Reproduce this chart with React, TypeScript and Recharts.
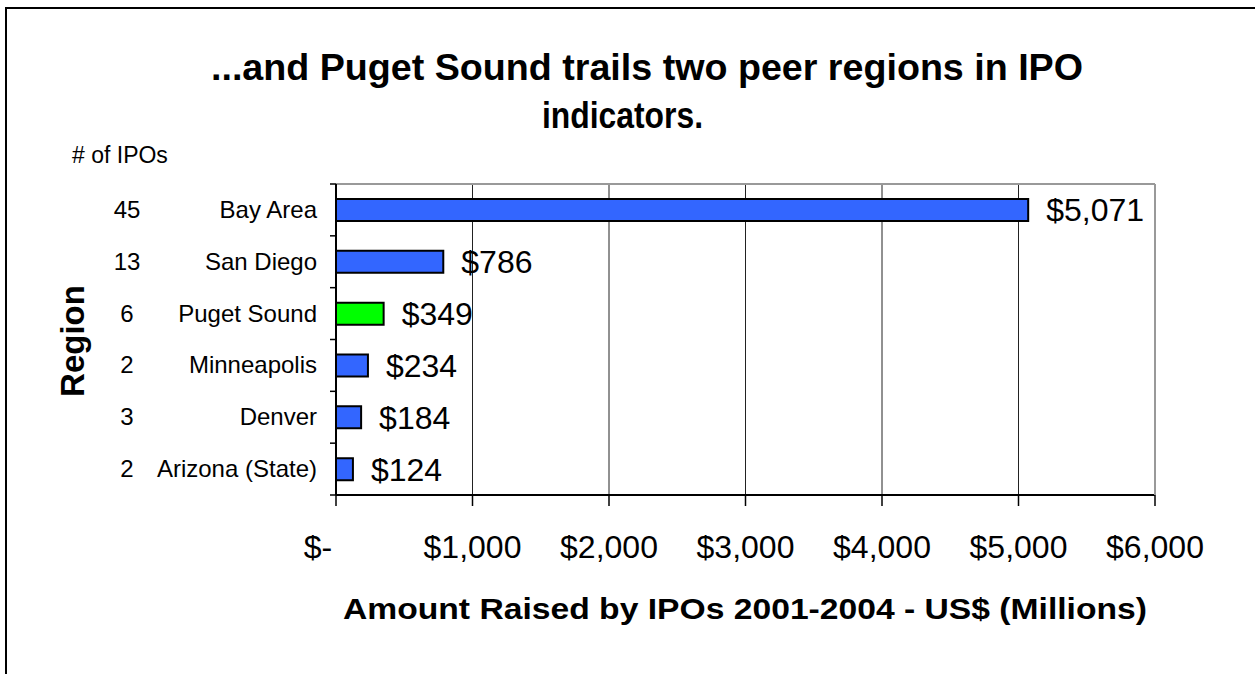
import React from "react";
import {
  BarChart,
  Bar,
  XAxis,
  YAxis,
  CartesianGrid,
  Cell,
  LabelList,
} from "recharts";

// values
const regions = ["Bay Area", "San Diego", "Puget Sound", "Minneapolis", "Denver", "Arizona (State)"];
const ipoCounts = [45, 13, 6, 2, 3, 2];
const amountRaised = [5071, 786, 349, 234, 184, 124];
const xTicks = [0, 1000, 2000, 3000, 4000, 5000, 6000];
const highlightRegion = "Puget Sound";

const titleLines = ["...and Puget Sound trails two peer regions in IPO", "indicators."];
const xTitle = "Amount Raised by IPOs 2001-2004 - US$ (Millions)";
const yTitle = "Region";
const countHeader = "# of IPOs";

const data = regions.map((region, i) => ({
  region,
  count: ipoCounts[i],
  amount: amountRaised[i],
}));

const FONT = "'Liberation Sans', Arial, sans-serif";
const BLUE = "#3366FF";
const GREEN = "#00FF00";
const CAT_MARGIN = 19;

const money = (v: number) => (v === 0 ? "$-" : `$${v.toLocaleString("en-US")}`);

// category label + IPO count, plus Excel-style tick marks on the row boundaries
function RegionTick(props: any) {
  const { x, y, payload, index, visibleTicksCount } = props;
  const half = payload.offset ?? 0;
  const axisX = x + CAT_MARGIN;
  const last = index === (visibleTicksCount ?? regions.length) - 1;
  return (
    <g>
      <line x1={axisX - 6} x2={axisX} y1={y - half} y2={y - half} stroke="#000" strokeWidth={1.5} />
      {last && (
        <line x1={axisX - 6} x2={axisX} y1={y + half} y2={y + half} stroke="#000" strokeWidth={1.5} />
      )}
      <text x={127} y={y} dy="0.33em" textAnchor="middle" fontSize={24} fill="#000" fontFamily={FONT}>
        {ipoCounts[index]}
      </text>
      <text x={x} y={y} dy="0.33em" textAnchor="end" fontSize={24} fill="#000" fontFamily={FONT}>
        {payload.value}
      </text>
    </g>
  );
}

function AmountTick(props: any) {
  const { x, y, payload } = props;
  const zero = payload.value === 0;
  return (
    <text
      x={zero ? x - 18 : x}
      y={y}
      dy="0.71em"
      textAnchor="middle"
      fontSize={32}
      fill="#000"
      fontFamily={FONT}
    >
      {money(payload.value)}
    </text>
  );
}

const NoTick = () => <g />;

export default function App() {
  return (
    <div
      style={{
        position: "fixed",
        left: 0,
        top: 0,
        width: 1255,
        height: 674,
        overflow: "hidden",
        background: "#fff",
      }}
    >
      <div
        style={{
          position: "absolute",
          left: 5,
          top: 7,
          width: 1300,
          height: 720,
          border: "2px solid #000",
        }}
      />
      <BarChart
        width={1255}
        height={674}
        data={data}
        layout="vertical"
        margin={{ top: 183, right: 99, bottom: 0, left: 0 }}
        style={{ position: "absolute", left: 0, top: 0 }}
      >
        <CartesianGrid
          xAxisId="bottom"
          yAxisId="cat"
          horizontal={false}
          stroke="#222"
          strokeWidth={1}
        />
        <XAxis
          xAxisId="bottom"
          type="number"
          domain={[0, 6000]}
          ticks={xTicks}
          interval={0}
          height={179}
          tickSize={11}
          tickMargin={29}
          axisLine={{ stroke: "#000", strokeWidth: 2 }}
          tickLine={{ stroke: "#000", strokeWidth: 1.5 }}
          tick={<AmountTick />}
        />
        <XAxis
          xAxisId="top"
          orientation="top"
          type="number"
          domain={[0, 6000]}
          height={1}
          tick={NoTick}
          tickLine={false}
          axisLine={{ stroke: "#999", strokeWidth: 2 }}
        />
        <YAxis
          yAxisId="cat"
          type="category"
          dataKey="region"
          width={336}
          tickSize={0}
          tickMargin={CAT_MARGIN}
          interval={0}
          axisLine={{ stroke: "#000", strokeWidth: 2 }}
          tickLine={false}
          tick={<RegionTick />}
        />
        <YAxis
          yAxisId="right"
          orientation="right"
          type="number"
          domain={[0, 1]}
          width={1}
          tick={NoTick}
          tickLine={false}
          axisLine={{ stroke: "#999", strokeWidth: 2 }}
        />
        <Bar
          xAxisId="bottom"
          yAxisId="cat"
          dataKey="amount"
          barSize={22}
          stroke="#000"
          strokeWidth={2}
          isAnimationActive={false}
        >
          {data.map((d) => (
            <Cell key={d.region} fill={d.region === highlightRegion ? GREEN : BLUE} />
          ))}
          <LabelList
            dataKey="amount"
            position="right"
            offset={18}
            formatter={(v: any) => money(Number(v))}
            style={{ fontSize: 32, fill: "#000", fontFamily: FONT }}
          />
        </Bar>
      </BarChart>
      <svg
        width={1255}
        height={674}
        style={{ position: "absolute", left: 0, top: 0, pointerEvents: "none" }}
      >
        <g fontFamily={FONT} fill="#000">
          <text x={211} y={80} fontSize={37} fontWeight="bold" textLength={872} lengthAdjust="spacingAndGlyphs">
            {titleLines[0]}
          </text>
          <text x={542} y={128} fontSize={36} fontWeight="bold" textLength={161} lengthAdjust="spacingAndGlyphs">
            {titleLines[1]}
          </text>
          <text x={72} y={163} fontSize={23}>
            {countHeader}
          </text>
          <text
            x={84}
            y={341}
            fontSize={33}
            fontWeight="bold"
            textAnchor="middle"
            transform="rotate(-90 84 341)"
          >
            {yTitle}
          </text>
          <text
            x={343}
            y={619}
            fontSize={30}
            fontWeight="bold"
            textLength={804}
            lengthAdjust="spacingAndGlyphs"
          >
            {xTitle}
          </text>
        </g>
      </svg>
    </div>
  );
}
